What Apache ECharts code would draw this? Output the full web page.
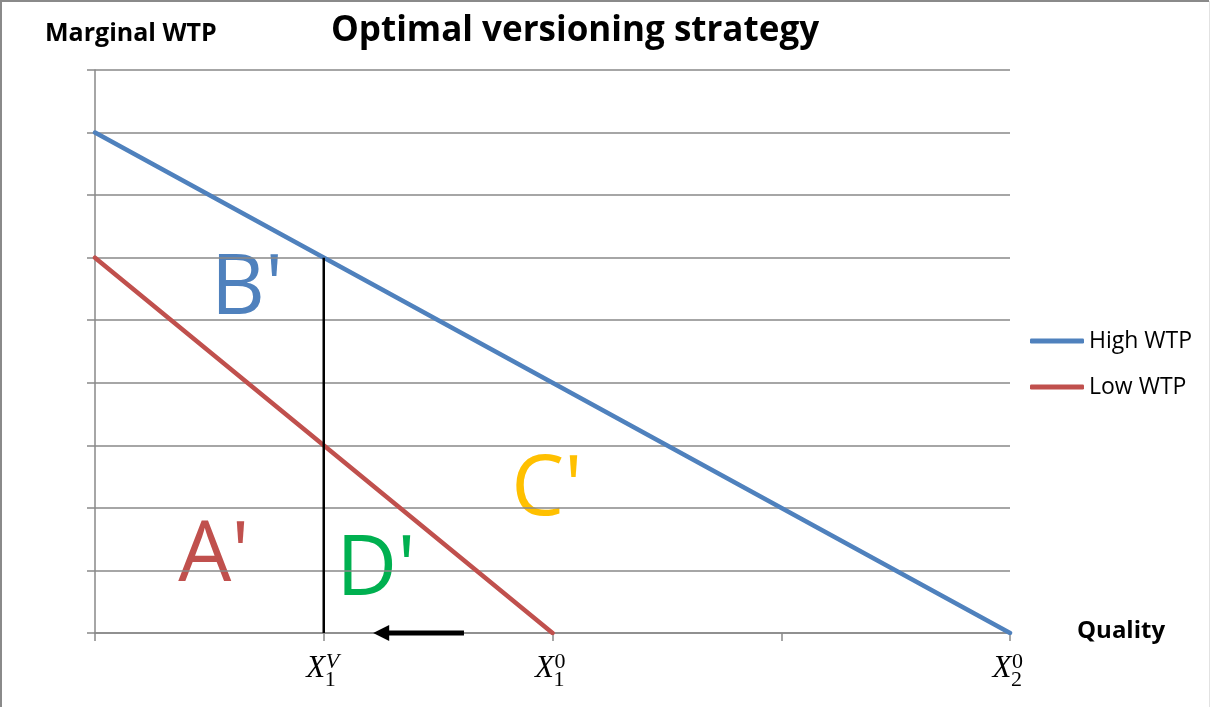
<!DOCTYPE html>
<html>
<head>
<meta charset="utf-8">
<script src="https://cdn.jsdelivr.net/npm/echarts@6/dist/echarts.min.js"></script>
<style>
  html, body { margin: 0; padding: 0; background: #fff; }
  #chart { width: 1210px; height: 707px; }
</style>
</head>
<body>
<div id="chart"></div>
<script>
// Marginal willingness-to-pay lines (quality on x, WTP on y)
var highWTP = [[0, 8], [4, 0]];
var lowWTP = [[0, 6], [2, 0]];
// Quality chosen for the low version, and the downward shift arrow (tail -> tip)
var versionLine = [[1, 0], [1, 6]];
var shiftArrow = [[1.613, 0], [1.216, 0]];
// Quality tick labels: X with subscript and superscript
var tickPos = [1, 2, 4];
var tickSub = ['1', '1', '2'];
var tickSup = ['V', '0', '0'];

var FONT = '"Open Sans", "Noto Sans", sans-serif';
var MATH = '"Liberation Serif", "DejaVu Serif", serif';
var GRID_COLOR = '#898989';

var chart = echarts.init(document.getElementById('chart'));

function bigLetter(text, cx, cy, color) {
  return {
    type: 'text', x: cx, y: cy, silent: true,
    style: {
      text: text, fill: color, fontFamily: FONT, fontSize: 84,
      align: 'center', verticalAlign: 'middle'
    }
  };
}

var option = {
  animation: false,
  backgroundColor: '#fff',
  grid: { left: 95, right: 200, top: 70, bottom: 74 },
  xAxis: {
    type: 'value', min: 0, max: 4, interval: 1,
    axisLine: { show: true, lineStyle: { color: GRID_COLOR, width: 1.5 } },
    axisTick: { show: true, length: 8, lineStyle: { color: GRID_COLOR, width: 1.5 } },
    axisLabel: { show: false },
    splitLine: { show: false }
  },
  yAxis: {
    type: 'value', min: 0, max: 9, interval: 1,
    axisLine: { show: true, lineStyle: { color: GRID_COLOR, width: 1.5 } },
    axisTick: { show: true, length: 8, lineStyle: { color: GRID_COLOR, width: 1.5 } },
    axisLabel: { show: false },
    splitLine: { show: true, lineStyle: { color: GRID_COLOR, width: 1.5 } }
  },
  legend: {
    data: ['High WTP', 'Low WTP'],
    orient: 'vertical',
    left: 1030, top: 329,
    padding: 0,
    itemGap: 22,
    itemWidth: 54, itemHeight: 5,
    icon: 'roundRect',
    textStyle: { fontFamily: FONT, fontSize: 23, color: '#000', lineHeight: 24 }
  },
  graphic: [
    {
      type: 'polyline', silent: true,
      shape: { points: [[1, 707], [1, 1], [1209, 1]] },
      style: { stroke: '#8a8a8a', lineWidth: 2, fill: null }
    },
    {
      type: 'line', silent: true,
      shape: { x1: 1209.5, y1: 1, x2: 1209.5, y2: 707 },
      style: { stroke: '#e2e2e2', lineWidth: 1 }
    },
    {
      type: 'text', x: 575, y: 31, silent: true,
      style: { text: 'Optimal versioning strategy', fill: '#000', fontFamily: FONT,
               fontWeight: 'bold', fontSize: 35, align: 'center', verticalAlign: 'middle' }
    },
    {
      type: 'text', x: 45, y: 34, silent: true,
      style: { text: 'Marginal WTP', fill: '#000', fontFamily: FONT,
               fontWeight: 'bold', fontSize: 25, align: 'left', verticalAlign: 'middle' }
    },
    {
      type: 'text', x: 1077, y: 631, silent: true,
      style: { text: 'Quality', fill: '#000', fontFamily: FONT,
               fontWeight: 'bold', fontSize: 24, align: 'left', verticalAlign: 'middle' }
    },
    bigLetter("B'", 247, 290, '#4F81BD'),
    bigLetter("A'", 214, 557, '#C0504D'),
    bigLetter("D'", 376, 571, '#00B050'),
    bigLetter("C'", 547, 491, '#FFC000')
  ],
  series: [
    {
      name: 'High WTP', type: 'line', data: highWTP, symbol: 'none',
      itemStyle: { color: '#4F81BD' },
      lineStyle: { color: '#4F81BD', width: 4.5, cap: 'round' }, z: 3
    },
    {
      name: 'Low WTP', type: 'line', data: lowWTP, symbol: 'none',
      itemStyle: { color: '#C0504D' },
      lineStyle: { color: '#C0504D', width: 4.5, cap: 'round' }, z: 3
    },
    {
      name: 'version', type: 'line', data: versionLine, symbol: 'none',
      lineStyle: { color: '#000', width: 2.5 }, z: 4
    },
    {
      // Arrow along the quality axis: shaft plus a filled triangular head at the tip
      name: 'shift', type: 'custom', clip: false, silent: true, z: 5,
      data: [shiftArrow[0].concat(shiftArrow[1])],
      renderItem: function (params, api) {
        var tail = api.coord([api.value(0), api.value(1)]);
        var tip = api.coord([api.value(2), api.value(3)]);
        var headLen = 15, headHalf = 8;
        var base = tip[0] + headLen;
        return {
          type: 'group',
          children: [
            { type: 'line', shape: { x1: tail[0], y1: tail[1], x2: base, y2: tip[1] },
              style: { stroke: '#000', lineWidth: 5 } },
            { type: 'polygon',
              shape: { points: [[tip[0], tip[1]], [base + 1, tip[1] - headHalf], [base + 1, tip[1] + headHalf]] },
              style: { fill: '#000' } }
          ]
        };
      }
    },
    {
      name: 'tickLabels', type: 'custom', clip: false, silent: true,
      data: tickPos.map(function (v) { return [v, 0]; }),
      renderItem: function (params, api) {
        var i = params.dataIndex;
        var p = api.coord([api.value(0), api.value(1)]);
        var supItalic = /[A-Za-z]/.test(tickSup[i]) ? 'italic' : 'normal';
        return {
          type: 'group',
          children: [
            { type: 'text', x: p[0] - 8, y: p[1] + 36,
              style: { text: 'X', fill: '#000', fontFamily: MATH, fontStyle: 'italic',
                       fontSize: 31, align: 'center', verticalAlign: 'middle' } },
            { type: 'text', x: p[0] + 1, y: p[1] + 47,
              style: { text: tickSub[i], fill: '#000', fontFamily: MATH,
                       fontSize: 22, align: 'left', verticalAlign: 'middle' } },
            { type: 'text', x: p[0] + 2, y: p[1] + 29,
              style: { text: tickSup[i], fill: '#000', fontFamily: MATH, fontStyle: supItalic,
                       fontSize: 22, align: 'left', verticalAlign: 'middle' } }
          ]
        };
      }
    }
  ]
};

chart.setOption(option);
</script>
</body>
</html>
